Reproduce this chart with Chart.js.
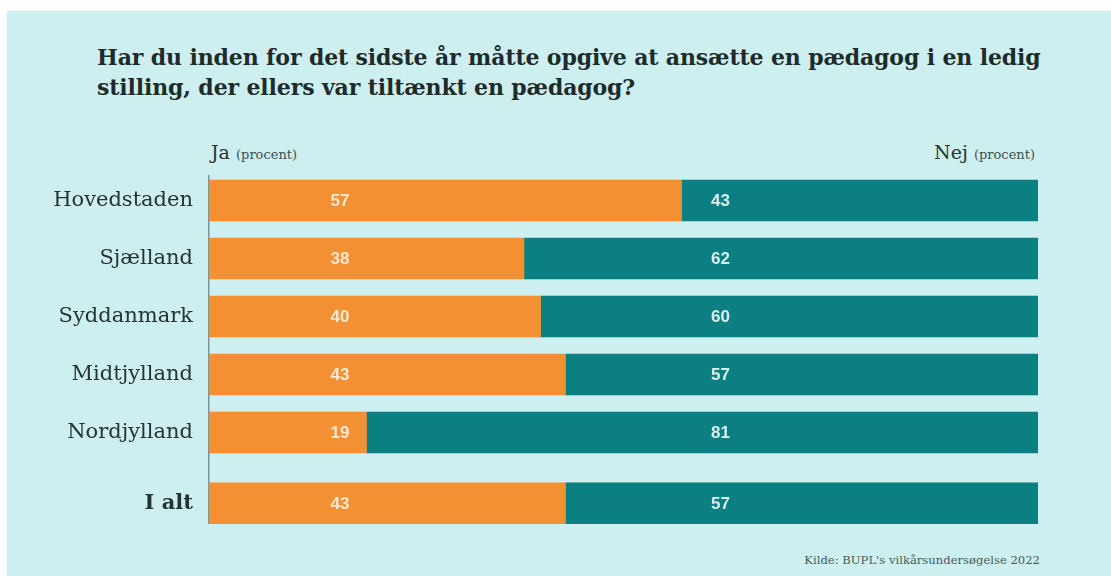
<!DOCTYPE html>
<html lang="da">
<head>
<meta charset="utf-8">
<script src="https://cdn.jsdelivr.net/npm/chart.js@4.4.1/dist/chart.umd.min.js"></script>
<style>
  html, body { margin: 0; padding: 0; background: #fff; }
  #ramme { position: absolute; left: 7px; top: 11px; width: 1104px; height: 565px; background: #cdeff0; }
  #titel { position: absolute; left: 97px; top: 42px; font-family: "DejaVu Serif", serif; font-weight: bold; font-size: 22px; letter-spacing: -0.13px; line-height: 30px; color: #1e2b2b; white-space: nowrap; }
  .hoved { position: absolute; top: 141px; font-family: "DejaVu Serif", serif; font-size: 19px; color: #243434; white-space: nowrap; }
  .hoved small { font-size: 13px; color: #3e5050; }
  #ja { left: 211px; }
  #nej { right: 76px; }
  #kilde { position: absolute; right: 71px; top: 553px; font-family: "DejaVu Serif", serif; font-size: 11.6px; color: #4a5a5a; white-space: nowrap; }
  #boks { position: absolute; left: 7px; top: 175px; width: 1104px; height: 349px; }
</style>
</head>
<body>
<div id="ramme"></div>
<div id="titel">Har du inden for det sidste år måtte opgive at ansætte en pædagog i en ledig<br>stilling, der ellers var tiltænkt en pædagog?</div>
<div class="hoved" id="ja">Ja <small>(procent)</small></div>
<div class="hoved" id="nej">Nej <small>(procent)</small></div>
<div id="kilde">Kilde: BUPL's vilkårsundersøgelse 2022</div>
<div id="boks"><canvas id="grafik"></canvas></div>
<script>
const regioner = ["Hovedstaden", "Sjælland", "Syddanmark", "Midtjylland", "Nordjylland", "I alt"];
const placering = [0, 1, 2, 3, 4, 5.22];
const jaVaerdier = [57, 38, 40, 43, 19, 43];
const nejVaerdier = [43, 62, 60, 57, 81, 57];

const orange = "#f39034";
const teal = "#0b7f81";

const tilPunkter = (vaerdier) => vaerdier.map((v, i) => ({ x: v, y: placering[i] }));

// tal i søjlerne står på faste steder, ikke midt i søjlen
const talPlugin = {
  id: "tal",
  afterDatasetsDraw(chart) {
    const ctx = chart.ctx;
    const xs = chart.scales.x;
    const ys = chart.scales.y;
    ctx.save();
    ctx.font = "bold 17px 'Liberation Sans', sans-serif";
    ctx.textAlign = "center";
    ctx.textBaseline = "middle";
    regioner.forEach((r, i) => {
      const y = ys.getPixelForValue(placering[i]) + 1;
      ctx.fillStyle = "#fbe8d2";
      ctx.fillText(jaVaerdier[i], xs.getPixelForValue(15.8), y);
      ctx.fillStyle = "#d8f0ee";
      ctx.fillText(nejVaerdier[i], xs.getPixelForValue(61.7), y);
    });
    ctx.restore();
  }
};

new Chart(document.getElementById("grafik"), {
  type: "bar",
  data: {
    datasets: [
      { label: "Ja", data: tilPunkter(jaVaerdier), backgroundColor: orange, barThickness: 41 },
      { label: "Nej", data: tilPunkter(nejVaerdier), backgroundColor: teal, barThickness: 41 }
    ]
  },
  options: {
    indexAxis: "y",
    responsive: true,
    maintainAspectRatio: false,
    animation: false,
    layout: { padding: { left: 0, right: 73, top: 0, bottom: 0 } },
    plugins: { legend: { display: false }, tooltip: { enabled: false } },
    scales: {
      x: { type: "linear", stacked: true, min: 0, max: 100, display: false },
      y: {
        type: "linear",
        stacked: true,
        reverse: true,
        offset: false,
        min: -0.44,
        max: 5.578,
        grid: { display: false, drawTicks: false },
        border: { display: true, color: "#7d9596", width: 1.5 },
        afterBuildTicks: (akse) => { akse.ticks = placering.map(v => ({ value: v })); },
        afterFit: (akse) => {
          akse.width = 202;
          akse.paddingTop = 0;
          akse.paddingBottom = 0;
        },
        ticks: {
          padding: 16,
          color: "#243434",
          autoSkip: false,
          font: (c) => ({ family: "'DejaVu Serif', serif", size: 21, weight: c.index === 5 ? "bold" : "normal" }),
          callback: (v, i) => regioner[i]
        }
      }
    }
  },
  plugins: [talPlugin]
});
</script>
</body>
</html>
